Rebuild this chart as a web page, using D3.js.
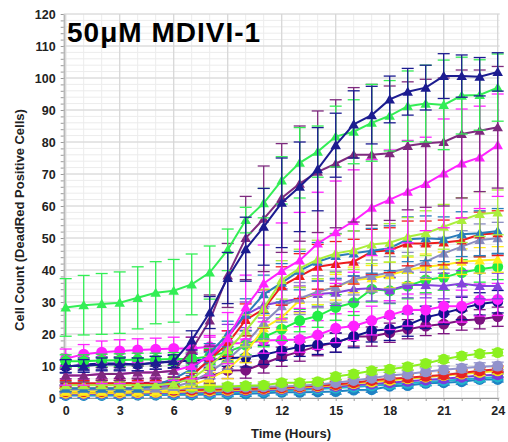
<!DOCTYPE html>
<html><head><meta charset="utf-8">
<script src="https://cdn.jsdelivr.net/npm/d3@7"></script>
<style>body{margin:0;background:#fff}svg{display:block}text{font-family:Arial,"Liberation Sans",sans-serif}</style>
</head><body><svg id="c" width="508" height="442"></svg>
<script>
// ---------- data ----------
const hours = [0,1,2,3,4,5,6,7,8,9,10,11,12,13,14,15,16,17,18,19,20,21,22,23,24];
const xTickLabels = [0,3,6,9,12,15,18,21,24];
const yTickLabels = [0,10,20,30,40,50,60,70,80,90,100,110,120];
const chartTitle = "50μM MDIVI-1";
const xTitle = "Time (Hours)";
const yTitle = "Cell Count (DeadRed Positive Cells)";

// triangle series
const navyTriMean    = [10,10,10.5,10.5,10.5,11,11.5,18,26.7,37.5,46.5,53.5,61,66,71.5,79,85.5,88.4,93.3,95.7,97,100.6,100.6,100.4,101.9];
const navyTriErr     = [2,2,2,2,2,2,2,3,5,8,10,12,14,14,13,10,10.5,9,7.3,7.3,7,7,6.6,6,6];
const greenTriMean   = [28.3,29,29.4,29.8,31.3,32.9,33.5,35.5,39.2,46.3,55.6,60.9,68,73.5,77,81.7,83.2,86,88.2,91.2,92,91.6,94.5,94.7,97];
const greenTriErr    = [9,9.3,9.5,9.6,9.7,9.7,9.8,9.5,8.3,6.5,4,4.6,7.4,11,8,9.5,10,12,11,11,12,14,12,11,10.5];
const purpleTriMean  = [7,7,7.5,7.5,8,8,8.5,15,24.2,38.3,50,56,62.5,67,70.7,73.2,76,76,76.5,78.8,79.6,80,82.5,83.5,84.6];
const purpleTriErr   = [2,2,2,2,2,2,2,4,8,10,13,16.5,17,18,19,20,21,22,21,20,20,20,20,19,19];
const magentaTriMean = [7,7,7.5,7.5,8,8,8.5,10,13,18.7,28.4,35.8,39.7,43,48.3,51.8,55.3,59.5,62,64.5,66.9,70.2,73.3,75.2,79];
const magentaTriErr  = [3,3,3,3,3,3,3,4,6,8,10,12,15,15,16,16,16,15,15.5,16,14.6,17,17,16,16];
const ygTriMean      = [4,4,4,4,4,4,4.5,6,10,15,21,28,36.9,40.5,43.3,45.2,46.2,48,48.5,50.4,51.5,53.5,55.6,57.5,58];
const ygTriErr       = [1,1,1,1,1,1,1.5,2,3,4,5,6,6,6,6,6,6,6,6,6,7,7,7,7,7];
const steelTriMean   = [3,3,3,3,3,4,6,9,14,20,26,32.4,36,39.8,42.6,44.4,45.2,46,46.8,49.6,49.9,49.6,51.2,51.5,52.2];
const steelTriErr    = [1,1,1,1,1,1,1.5,2,3,4,5,6,6,6,6,7,7,7,7,7,7,7,7,7,7];
const redTriMean     = [4.5,4.5,4.5,4.5,4.5,4.5,5,7,12,17,24.4,27.8,35,38.1,41,41.9,42.6,45.7,46.2,48.3,48.3,48.6,49.2,51.1,51.5];
const redTriErr      = [1,1,1,1,1,1,1.5,2,3,4,5,6,6,7,7,7,7,7,7,7,7,7,7,7,7];
const lavTriMean     = [3,3,3,3,3,3,3.5,5,8,12,17,23.5,28.7,31.1,33.2,34.6,37.2,38.1,39.2,40.5,42.6,45.2,47.3,49.4,49.9];
const lavTriErr      = [1,1,1,1,1,1,1,2,2,3,4,5,5,5,5,5,5,5,5,5,5,5,5,5,5];
const yellowTriMean  = [2,2,2,2,2,2,2.5,4,6,9,14,21.8,25.2,30.6,33.2,34.6,36.9,37.4,38.4,40,41,41.6,42.6,43,43.3];
const yellowTriErr   = [1,1,1,1,1,1,1,1.5,2,3,3,4,4,4,4,4,4,4,4,4,4,4,4,4,4];
const violetTriMean  = [3,3,3,3,3,3.5,4,7,12,19,26,29,30.1,31,32.5,32.9,34,34.3,33.7,35.3,35.3,35,35.8,35,35];
const violetTriErr   = [1,1,1,1,1,1,1,2,3,4,4,4,4,4,4,4,4,4,4,4,4,4,4,4,4];

// circle series
const greenCircMean   = [11.5,11.5,11.7,11.8,12,12,12.2,12.3,13,14.5,16.5,19,21.5,24.2,25.6,28.3,29.8,34,33.5,35,36.9,37.7,39.2,40.2,41];
const greenCircErr    = [2,2,2,2,2,2,2,2,2.5,3,3,3,3.5,3.5,3.5,4,4,4,4,4,4,4,4,4,4];
const magentaCircMean = [12.3,13.7,14.3,14.7,15,15.2,15.5,15.5,16,17,17.2,18,18.1,18.3,19.7,21.8,22.5,24.2,25.9,27.5,27.5,28.7,28.7,30.6,30.8];
const magentaCircErr  = [3,3,3.5,3.5,3.5,3.5,3.5,3.5,3.5,4,4,4,4,4,4.5,4.5,4.5,4.5,4.5,5,5,5,5,5,5];
const navyCircMean    = [9.8,10.5,10.8,10.8,10.5,11,11.3,11.7,11.9,12.4,12.7,13.5,14.8,16,16.6,17.3,19.2,21,21.5,22.8,25.2,26.5,28,29.4,30.1];
const navyCircErr     = [2,2,2,2,2,2,2,2,2.5,2.5,3,3,3,3,3,3,3.5,3.5,3.5,3.5,3.5,3.5,3.5,3.5,3.5];
const purpleCircMean  = [4.5,4.5,4.5,4.6,4.7,4.8,5,5.8,6.7,8.6,8.7,10.8,12.9,14.5,16.2,17.3,19.2,19.2,20.4,21.5,22.5,23.1,24.2,24.6,25.4];
const purpleCircErr   = [1.5,1.5,1.5,1.5,1.5,1.5,1.5,2,2,2.5,2.5,3,3,3,3,3,3,3,3,3,3,3,3,3,3];
const lgreenCircMean  = [3,3,3.1,3.1,3.2,3.2,3.3,3.4,3.5,3.6,3.8,4,4.8,4.8,5.1,6.7,7.5,8.5,9,9.8,10.8,12.1,13.1,13.8,14.2];
const lgreenCircErr   = [1,1,1,1,1,1,1,1,1,1,1,1,1,1,1,1,1,1,1,1,1,1,1,1,1];
const lavCircMean     = [2.5,2.5,2.5,2.5,2.6,2.7,2.8,3,3.2,3.3,3.4,3.5,3.6,3.8,4.2,4.8,5.5,6.2,7,7.5,8.2,8.8,9.3,9.8,10];
const lavCircErr      = [1,1,1,1,1,1,1,1,1,1,1,1,1,1,1,1,1,1,1,1,1.2,1.2,1.2,1.2,1.2];
const redCircMean     = [2,2,2,2.1,2.2,2.3,2.4,2.5,2.6,2.7,2.8,3,3.2,3.5,3.8,4.2,4.8,5.5,6,6.3,6.8,7.2,7.8,8.5,9];
const redCircErr      = [1,1,1,1,1,1,1,1,1,1,1,1,1,1,1,1,1,1,1,1,1,1,1,1,1];
const yellowCircMean  = [1.5,1.5,1.6,1.6,1.7,1.8,1.9,2,2.2,2.4,2.6,2.8,3,3.3,3.6,4,4.5,5,5.5,6,6.5,7,7.5,8,8.5];
const yellowCircErr   = [1,1,1,1,1,1,1,1,1,1,1,1,1,1,1,1,1,1,1,1,1,1,1,1,1];
const violetCircMean  = [1.2,1.2,1.3,1.3,1.4,1.5,1.6,1.7,1.9,2.1,2.3,2.5,2.7,3,3.3,3.6,4,4.4,4.8,5.2,5.6,6,6.5,7,7.3];
const violetCircErr   = [1,1,1,1,1,1,1,1,1,1,1,1,1,1,1,1,1,1,1,1,1,1,1,1,1];
const cyanCircMean    = [1,1,1,1.1,1.1,1.2,1.3,1.4,1.5,1.7,1.9,2.1,2.3,2.5,2.8,3.1,3.4,3.8,4.2,4.6,5,5.4,5.8,6.2,6.6];
const cyanCircErr     = [1,1,1,1,1,1,1,1,1,1,1,1,1,1,1,1,1,1,1,1,1,1,1,1,1];
const steelCircMean   = [0.8,0.8,0.8,0.8,0.9,0.9,1,1,1.1,1.2,1.3,1.5,1.8,1.8,1.9,2,2.5,2.6,3.7,3.9,4.6,4.8,5.1,5.8,5.8];
const steelCircErr    = [0.8,0.8,0.8,0.8,0.8,0.8,0.8,0.8,0.8,0.8,0.8,0.8,0.8,0.8,0.8,0.8,0.8,0.8,0.8,0.8,0.8,0.8,0.8,0.8,0.8];

// ---------- series table (drawing order: bottom first) ----------
const series = [
  {m: steelCircMean,  e: steelCircErr,  c: "#1f82c4", s: "circle"},
  {m: cyanCircMean,   e: cyanCircErr,   c: "#22b4cc", s: "circle"},
  {m: violetCircMean, e: violetCircErr, c: "#7a3ade", s: "circle"},
  {m: yellowCircMean, e: yellowCircErr, c: "#f2e21a", s: "circle"},
  {m: redCircMean,    e: redCircErr,    c: "#e82222", s: "circle"},
  {m: lavCircMean,    e: lavCircErr,    c: "#9292cc", s: "circle"},
  {m: lgreenCircMean, e: lgreenCircErr, c: "#8cf020", s: "circle"},
  {m: purpleCircMean, e: purpleCircErr, c: "#7c1280", s: "circle"},
  {m: navyCircMean,   e: navyCircErr,   c: "#12128c", s: "circle"},
  {m: magentaCircMean,e: magentaCircErr,c: "#ff22ff", s: "circle"},
  {m: greenCircMean,  e: greenCircErr,  c: "#22ee44", s: "circle"},
  {m: violetTriMean,  e: violetTriErr,  c: "#8442dc", s: "tri"},
  {m: yellowTriMean,  e: yellowTriErr,  c: "#ffec1c", s: "tri"},
  {m: lavTriMean,     e: lavTriErr,     c: "#8a8cc0", s: "tri"},
  {m: redTriMean,     e: redTriErr,     c: "#ee1c1c", s: "tri"},
  {m: steelTriMean,   e: steelTriErr,   c: "#2a7cba", s: "tri"},
  {m: ygTriMean,      e: ygTriErr,      c: "#aaee3c", s: "tri"},
  {m: magentaTriMean, e: magentaTriErr, c: "#ff22ff", s: "tri"},
  {m: purpleTriMean,  e: purpleTriErr,  c: "#7e2a7e", s: "tri"},
  {m: greenTriMean,   e: greenTriErr,   c: "#33ee55", s: "tri"},
  {m: navyTriMean,    e: navyTriErr,    c: "#1c1c90", s: "tri"}
];

// ---------- chart ----------
const svg = d3.select("#c");
const x = d3.scaleLinear().domain([0,24]).range([65.7,497.7]);
const y = d3.scaleLinear().domain([0,120]).range([398,14]);

// grid
const grid = svg.append("g");
grid.selectAll(".vmin").data(d3.range(0,25,1)).join("line")
  .attr("x1",d=>x(d)).attr("x2",d=>x(d)).attr("y1",y(120)).attr("y2",y(0))
  .attr("stroke","#ececec").attr("stroke-width",1);
grid.selectAll(".hmin").data(d3.range(0,121,2)).join("line")
  .attr("x1",x(0)-2).attr("x2",x(24)+2).attr("y1",d=>y(d)).attr("y2",d=>y(d))
  .attr("stroke","#ececec").attr("stroke-width",1);
grid.selectAll(".vmaj").data(xTickLabels).join("line")
  .attr("x1",d=>x(d)).attr("x2",d=>x(d)).attr("y1",y(120)).attr("y2",y(0))
  .attr("stroke","#d6d6d6").attr("stroke-width",1.2);
grid.selectAll(".hmaj").data(yTickLabels).join("line")
  .attr("x1",x(0)-2).attr("x2",x(24)+2).attr("y1",d=>y(d)).attr("y2",d=>y(d))
  .attr("stroke","#d6d6d6").attr("stroke-width",1.2);

// axes
const xAxis = d3.axisBottom(x).tickValues(xTickLabels).tickSize(0).tickPadding(8);
const gx = svg.append("g").attr("transform",`translate(0,${y(0)})`).call(xAxis);
gx.select(".domain").attr("stroke","#9a9a9a");
gx.selectAll("text").attr("font-size","12.5px").attr("font-weight","bold").attr("fill","#222");
const gxMinor = svg.append("g").attr("transform",`translate(0,${y(0)})`)
  .call(d3.axisBottom(x).tickValues(d3.range(0,25,1)).tickSize(3).tickFormat(""));
gxMinor.select(".domain").remove();
gxMinor.selectAll("line").attr("stroke","#9a9a9a");

const yAxis = d3.axisLeft(y).tickValues(yTickLabels).tickSize(0).tickPadding(8);
const gy = svg.append("g").attr("transform",`translate(${x(0)-2},0)`).call(yAxis);
gy.select(".domain").attr("stroke","#9a9a9a");
gy.selectAll("text").attr("font-size","12.5px").attr("font-weight","bold").attr("fill","#222");
const gyMinor = svg.append("g").attr("transform",`translate(${x(0)-2},0)`)
  .call(d3.axisLeft(y).tickValues(d3.range(0,121,2)).tickSize(3).tickFormat(""));
gyMinor.select(".domain").remove();
gyMinor.selectAll("line").attr("stroke","#9a9a9a");

// clip for error bars
svg.append("clipPath").attr("id","clip").append("rect")
  .attr("x",0).attr("y",y(120)).attr("width",508).attr("height",y(0)-y(120)+1);

const plot = svg.append("g");
const line = d3.line().x((d,i)=>x(hours[i])).y(d=>y(d));
const tri = d3.symbol().type(d3.symbolTriangle).size(48);

series.forEach(sr=>{
  const g = plot.append("g");
  const eb = g.append("g").attr("clip-path","url(#clip)")
    .attr("stroke",sr.c).attr("stroke-width",1.3).attr("fill","none");
  hours.forEach((h,i)=>{
    const lo = y(sr.m[i]-sr.e[i]), hi = y(sr.m[i]+sr.e[i]), cx = x(h);
    eb.append("line").attr("x1",cx).attr("x2",cx).attr("y1",lo).attr("y2",hi);
    eb.append("line").attr("x1",cx-6).attr("x2",cx+6).attr("y1",lo).attr("y2",lo);
    eb.append("line").attr("x1",cx-6).attr("x2",cx+6).attr("y1",hi).attr("y2",hi);
  });
  g.append("path").datum(sr.m).attr("d",line)
    .attr("fill","none").attr("stroke",sr.c).attr("stroke-width",2);
  if(sr.s==="circle"){
    g.selectAll("circle").data(sr.m).join("circle")
      .attr("cx",(d,i)=>x(hours[i])).attr("cy",d=>y(d)).attr("r",5.5).attr("fill",sr.c);
  } else {
    g.selectAll("path.m").data(sr.m).join("path").attr("class","m")
      .attr("d",tri).attr("transform",(d,i)=>`translate(${x(hours[i])},${y(d)+1})`)
      .attr("fill",sr.c);
  }
});

// titles
svg.append("text").attr("x",67).attr("y",42).attr("font-size","28px").attr("font-weight","bold")
  .attr("letter-spacing","1px").attr("fill","#000").text(chartTitle);
svg.append("text").attr("x",291).attr("y",438).attr("text-anchor","middle")
  .attr("font-size","13px").attr("font-weight","bold").attr("fill","#222").text(xTitle);
svg.append("text").attr("transform","translate(24,220) rotate(-90)").attr("text-anchor","middle")
  .attr("font-size","13px").attr("font-weight","bold").attr("fill","#222").text(yTitle);
</script></body></html>
